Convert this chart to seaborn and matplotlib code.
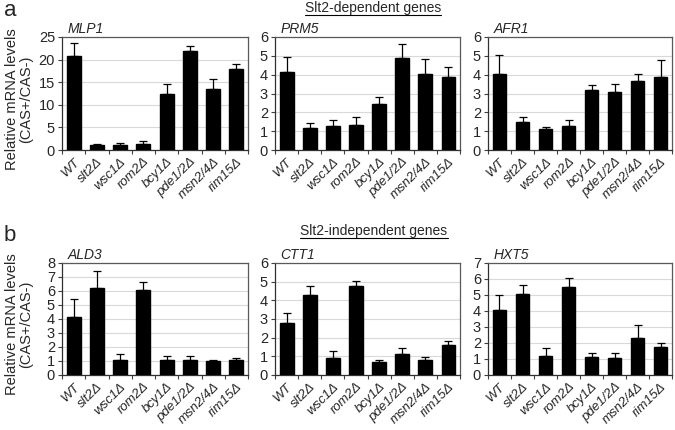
import pandas as pd
import numpy as np
import matplotlib
matplotlib.use('Agg')
import matplotlib.pyplot as plt
import seaborn as sns
from matplotlib.lines import Line2D

strains = ['WT', 'slt2Δ', 'wsc1Δ', 'rom2Δ', 'bcy1Δ', 'pde1/2Δ', 'msn2/4Δ', 'rim15Δ']

# Slt2-dependent genes
mlp1 = [20.7, 1.1, 1.0, 1.4, 12.5, 21.8, 13.5, 18.0]
mlp1_err = [3.0, 0.2, 0.5, 0.5, 2.2, 1.3, 2.2, 1.0]
prm5 = [4.15, 1.15, 1.3, 1.35, 2.45, 4.9, 4.05, 3.9]
prm5_err = [0.8, 0.3, 0.3, 0.4, 0.35, 0.75, 0.8, 0.5]
afr1 = [4.05, 1.5, 1.1, 1.25, 3.2, 3.1, 3.65, 3.85]
afr1_err = [1.0, 0.25, 0.12, 0.35, 0.25, 0.4, 0.4, 0.95]

# Slt2-independent genes
ald3 = [4.15, 6.2, 1.05, 6.05, 1.1, 1.1, 1.0, 1.05]
ald3_err = [1.25, 1.2, 0.45, 0.6, 0.25, 0.25, 0.1, 0.15]
ctt1 = [2.8, 4.3, 0.9, 4.75, 0.7, 1.15, 0.8, 1.6]
ctt1_err = [0.5, 0.45, 0.4, 0.3, 0.12, 0.3, 0.15, 0.2]
hxt5 = [4.05, 5.05, 1.2, 5.5, 1.15, 1.05, 2.3, 1.75]
hxt5_err = [0.95, 0.55, 0.5, 0.55, 0.22, 0.35, 0.8, 0.25]

panels = [
    ('MLP1', mlp1, mlp1_err, 25, 5),
    ('PRM5', prm5, prm5_err, 6, 1),
    ('AFR1', afr1, afr1_err, 6, 1),
    ('ALD3', ald3, ald3_err, 8, 1),
    ('CTT1', ctt1, ctt1_err, 6, 1),
    ('HXT5', hxt5, hxt5_err, 7, 1),
]

sns.set_theme(style='white')
plt.rcParams['font.family'] = ['Liberation Sans', 'DejaVu Sans']

fig = plt.figure(figsize=(6.75, 4.3), dpi=100)

lefts = [62, 275, 488]
widths = [186, 185, 184]
rows = [(37, 150), (263, 375)]

for i, (gene, vals, errs, ymax, step) in enumerate(panels):
    r, c = divmod(i, 3)
    top, bot = rows[r]
    ax = fig.add_axes([lefts[c] / 675, (430 - bot) / 430, widths[c] / 675, (bot - top) / 430])
    df = pd.DataFrame({'strain': strains, 'value': vals})
    sns.barplot(data=df, x='strain', y='value', color='black', width=0.6,
                saturation=1, edgecolor='black', ax=ax, zorder=3)
    xs = [p.get_x() + p.get_width() / 2 for p in ax.patches]
    # upper error bars only
    ax.errorbar(xs, vals, yerr=[np.zeros(len(errs)), errs], fmt='none',
                ecolor='black', elinewidth=0.9, capsize=3, capthick=0.9, zorder=4)
    ax.set_ylim(0, ymax)
    ax.set_xlim(-0.5, len(strains) - 0.5)
    ax.set_yticks(np.arange(0, ymax + step / 2, step))
    ax.yaxis.grid(True, color='#d9d9d9', linewidth=0.8, zorder=0)
    ax.set_axisbelow(True)
    ax.set_xlabel('')
    ax.set_ylabel('')
    ax.set_xticks(range(len(strains)))
    ax.set_xticklabels(strains, rotation=45, ha='right', rotation_mode='anchor',
                       fontstyle='italic', fontsize=9.5)
    ax.set_xticks(np.arange(-0.5, len(strains)), minor=True)
    ax.tick_params(axis='x', which='major', length=0, pad=4)
    ax.tick_params(axis='x', which='minor', length=3, width=0.8, color='#404040',
                   direction='out', bottom=True)
    ax.tick_params(axis='y', length=3, width=0.8, color='#404040', direction='out',
                   left=True, labelsize=10.5, pad=2)
    for s in ['top', 'right']:
        ax.spines[s].set_color('#595959')
        ax.spines[s].set_linewidth(0.9)
    for s in ['left', 'bottom']:
        ax.spines[s].set_color('#303030')
        ax.spines[s].set_linewidth(0.9)
    ax.text(0.03, 1.01, gene, transform=ax.transAxes, fontstyle='italic',
            fontsize=10, ha='left', va='bottom')
    if c == 0:
        ax.set_ylabel('Relative mRNA levels\n(CAS+/CAS-)', fontsize=10.5, labelpad=4,
                      linespacing=1.0)
        ax.yaxis.set_label_coords(-0.155, 0.45)

fig.text(4 / 675, 1 - 16 / 430, 'a', fontsize=16, ha='left', va='baseline')
fig.text(4 / 675, 1 - 241 / 430, 'b', fontsize=16, ha='left', va='baseline')

headers = [('Slt2-dependent genes', 373, 12), ('Slt2-independent genes', 374, 235)]
fig.canvas.draw()
renderer = fig.canvas.get_renderer()
for label, xc, yb in headers:
    t = fig.text(xc / 675, 1 - yb / 430, label, fontsize=10, ha='center', va='baseline')
    bb = t.get_window_extent(renderer=renderer).transformed(fig.transFigure.inverted())
    yline = 1 - (yb + 2.5) / 430
    fig.add_artist(Line2D([bb.x0, bb.x1], [yline, yline], transform=fig.transFigure,
                          color='black', linewidth=0.8))

fig.savefig('out.png', dpi=100)
